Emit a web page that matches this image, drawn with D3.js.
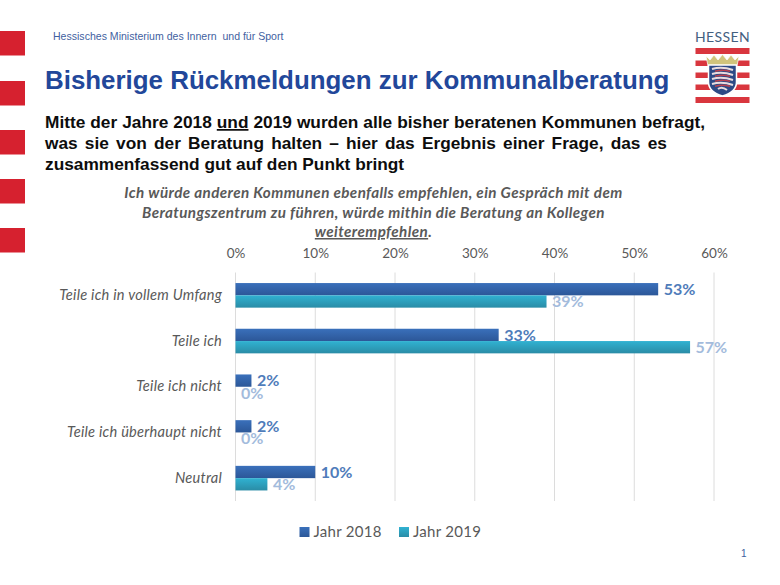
<!DOCTYPE html>
<html><head><meta charset="utf-8">
<script src="https://cdn.jsdelivr.net/npm/d3@7/dist/d3.min.js"></script>
<style>html,body{margin:0;padding:0;background:#fff}svg{display:block}</style>
</head><body><svg id="c" width="780" height="585"></svg>
<script>
const categories=["Teile ich in vollem Umfang","Teile ich","Teile ich nicht","Teile ich überhaupt nicht","Neutral"];
const seriesNames=["Jahr 2018","Jahr 2019"];
const values2018=[53,33,2,2,10];
const values2019=[39,57,0,0,4];
const xTicks=[0,10,20,30,40,50,60];
const chartQuestion=["Ich würde anderen Kommunen ebenfalls empfehlen, ein Gespräch mit dem","Beratungszentrum zu führen, würde mithin die Beratung an Kollegen"];

const svg=d3.select("#c");
const sans="'Liberation Sans',Arial,sans-serif", lato="Lato,sans-serif";
const defs=svg.append("defs");
function grad(id,stops){const g=defs.append("linearGradient").attr("id",id).attr("x1",0).attr("y1",0).attr("x2",0).attr("y2",1);
 stops.forEach(s=>g.append("stop").attr("offset",s[0]).attr("stop-color",s[1]));}
grad("g18",[[0,"#3a70bb"],[1,"#2c5798"]]);
grad("g19",[[0,"#30b2d2"],[1,"#2a8ca6"]]);

// left stripes
[31,81,130,179,228].forEach(y=>svg.append("rect").attr("x",0).attr("y",y).attr("width",25).attr("height",24.5).attr("fill","#d6212f"));

svg.append("text").attr("x",53).attr("y",40).attr("font-family",sans).attr("font-size",10.55).attr("fill","#3f5f9f").attr("xml:space","preserve").text("Hessisches Ministerium des Innern  und für Sport");
svg.append("text").attr("x",45).attr("y",89).attr("font-family",sans).attr("font-weight","bold").attr("font-size",25.9).attr("fill","#22479a").text("Bisherige Rückmeldungen zur Kommunalberatung");

const intro=svg.append("g").attr("font-family",sans).attr("font-weight","bold").attr("font-size",17.3).attr("fill","#0d0d0d");
const l1=intro.append("text").attr("x",45).attr("y",128).attr("word-spacing",0.2);
l1.append("tspan").text("Mitte der Jahre 2018 ");
l1.append("tspan").attr("text-decoration","underline").text("und");
l1.append("tspan").text(" 2019 wurden alle bisher beratenen Kommunen befragt,");
intro.append("text").attr("x",45).attr("y",149).attr("word-spacing",2.4).text("was sie von der Beratung halten – hier das Ergebnis einer Frage, das es");
intro.append("text").attr("x",45).attr("y",170).text("zusammenfassend gut auf den Punkt bringt");

// question title
const q=svg.append("g").attr("font-family",lato).attr("font-style","italic").attr("font-weight","bold").attr("font-size",15.2).attr("letter-spacing",0.4).attr("fill","#595959").attr("text-anchor","middle");
q.append("text").attr("x",373.5).attr("y",198).text(chartQuestion[0]);
q.append("text").attr("x",373.5).attr("y",218).text(chartQuestion[1]);
const q3=q.append("text").attr("x",373.5).attr("y",237);
q3.append("tspan").attr("text-decoration","underline").text("weiterempfehlen");
q3.append("tspan").text(".");

// chart
const x=d3.scaleLinear().domain([0,60]).range([235.5,714]);
const y=d3.scaleBand().domain(categories).range([272.5,501]);
const barH=12.3;
const g=svg.append("g");
const axis=d3.axisTop(x).tickValues(xTicks).tickFormat(d=>d+"%").tickSize(0).tickPadding(0);
const ax=g.append("g").attr("transform","translate(0,258)").call(axis);
ax.select(".domain").remove();
ax.selectAll("text").attr("font-family",lato).attr("font-size",13.5).attr("fill","#595959");
g.append("g").selectAll("line").data(xTicks).join("line")
 .attr("x1",d=>x(d)).attr("x2",d=>x(d)).attr("y1",272.5).attr("y2",501)
 .attr("stroke","#dcdcdc").attr("stroke-width",1);

const yAx=d3.axisLeft(y).tickSize(0).tickPadding(13.5);
const ya=g.append("g").attr("transform","translate(235.5,0)").call(yAx);
ya.select(".domain").remove();
ya.selectAll("text").attr("font-family",lato).attr("font-style","italic").attr("font-size",14.6).attr("letter-spacing",0.25).attr("fill","#595959");

const cy=c=>y(c)+y.bandwidth()/2;
g.selectAll(".b18").data(categories).join("rect").attr("class","b18")
 .attr("x",x(0)).attr("y",c=>cy(c)-barH).attr("height",barH)
 .attr("width",(c,i)=>x(values2018[i])-x(0)).attr("fill","url(#g18)");
g.selectAll(".b19").data(categories).join("rect").attr("class","b19")
 .attr("x",x(0)).attr("y",c=>cy(c)).attr("height",barH)
 .attr("width",(c,i)=>x(values2019[i])-x(0)).attr("fill","url(#g19)");
g.selectAll(".l18").data(categories).join("text").attr("class","l18")
 .attr("x",(c,i)=>x(values2018[i])+5.5).attr("y",c=>cy(c)-0.5)
 .attr("font-family",lato).attr("font-weight","bold").attr("font-size",16).attr("fill","#4f7cba")
 .text((c,i)=>values2018[i]+"%");
g.selectAll(".l19").data(categories).join("text").attr("class","l19")
 .attr("x",(c,i)=>x(values2019[i])+5.5).attr("y",c=>cy(c)+12)
 .attr("font-family",lato).attr("font-weight","bold").attr("font-size",16).attr("fill","#a3bbdc")
 .text((c,i)=>values2019[i]+"%");

// legend
const leg=g.append("g");
[[299.5,"url(#g18)",313.5],[399,"url(#g19)",413]].forEach((d,i)=>{
 leg.append("rect").attr("x",d[0]).attr("y",527).attr("width",10).attr("height",10).attr("fill",d[1]);
 leg.append("text").attr("x",d[2]).attr("y",537).attr("font-family",lato).attr("font-size",15).attr("letter-spacing",0.3).attr("fill","#595959").text(seriesNames[i]);
});

svg.append("text").attr("x",741).attr("y",557).attr("font-family",sans).attr("font-size",10).attr("fill","#3f5f9f").text("1");

// logo
const lg=svg.append("g");
lg.append("text").attr("x",722.5).attr("y",42).attr("text-anchor","middle").attr("font-family",lato).attr("font-size",14).attr("letter-spacing",0.4).attr("fill","#44607f").text("HESSEN");
[[48,6],[60.5,5.5],[72.5,5.5],[84.5,5.5],[97,6]].forEach(s=>lg.append("rect").attr("x",695.5).attr("y",s[0]).attr("width",54).attr("height",s[1]).attr("fill","#d9363e"));
lg.append("path").attr("d","M706 56 L710 60 L714 55 L718 60 L722.5 54.5 L727 60 L731 55 L735 60 L739 56 L737 66 L708 66Z").attr("fill","#d0c47c").attr("stroke","#fff").attr("stroke-width",0.7);
lg.append("path").attr("d","M708.5 65 H736.5 V82 Q736.5 92 722.5 96 Q708.5 92 708.5 82Z").attr("fill","#2c4a86").attr("stroke","#fff").attr("stroke-width",1.5);
[69,74,79,84,89].forEach((yy,i)=>lg.append("path").attr("d",`M${712+(i==4?6:0)} ${yy} Q722 ${yy-3} ${733-(i==4?6:0)} ${yy+1}`).attr("stroke","#e8dcdf").attr("stroke-width",2).attr("fill","none"));
[71.3,76.3,81.3,86.3].forEach(yy=>lg.append("path").attr("d",`M715 ${yy} Q722 ${yy-2} 730 ${yy}`).attr("stroke","#b8414e").attr("stroke-width",1.5).attr("fill","none"));
</script></body></html>
